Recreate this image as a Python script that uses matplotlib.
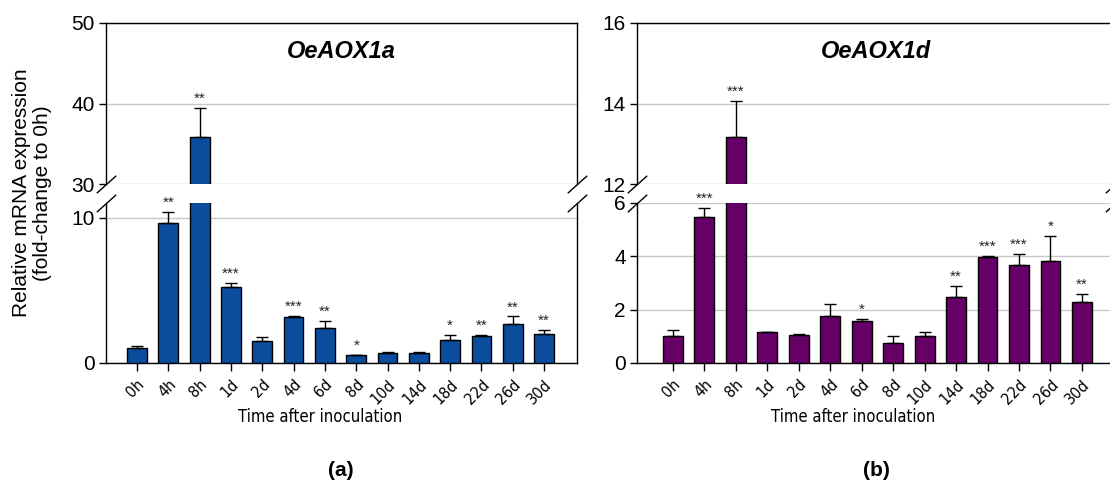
import numpy as np
import matplotlib
matplotlib.use('Agg')
import matplotlib.pyplot as plt

plt.rcParams['font.family'] = ['Liberation Sans', 'DejaVu Sans']

labels = ['0h', '4h', '8h', '1d', '2d', '4d', '6d', '8d', '10d', '14d', '18d', '22d', '26d', '30d']

# OeAOX1a
aox1a = [1.0, 9.6, 35.9, 5.2, 1.5, 3.15, 2.4, 0.55, 0.72, 0.68, 1.6, 1.85, 2.65, 2.0]
aox1a_err = [0.2, 0.8, 3.5, 0.28, 0.3, 0.07, 0.48, 0.03, 0.05, 0.05, 0.32, 0.05, 0.55, 0.25]
aox1a_sig = ['', '**', '**', '***', '', '***', '**', '*', '', '', '*', '**', '**', '**']

# OeAOX1d
aox1d = [1.0, 5.48, 13.18, 1.15, 1.06, 1.76, 1.56, 0.75, 1.03, 2.46, 3.98, 3.66, 3.83, 2.27]
aox1d_err = [0.22, 0.34, 0.88, 0.02, 0.03, 0.46, 0.08, 0.27, 0.14, 0.44, 0.03, 0.42, 0.95, 0.32]
aox1d_sig = ['', '***', '***', '', '', '', '*', '', '', '**', '***', '***', '*', '**']

W, H = 1110, 493
fig = plt.figure(figsize=(W / 100, H / 100), dpi=100)

# condensed face for the time labels
narrow = dict(family='DejaVu Sans', stretch='condensed')


def box(x0, x1, ytop, ybot):
    # pixel box -> figure fraction
    return [x0 / W, 1 - ybot / H, (x1 - x0) / W, (ybot - ytop) / H]


def panel(x0, x1, xlim, vals, errs, sigs, color, top_lim, top_ticks, bot_lim, bot_ticks, title):
    ax_t = fig.add_axes(box(x0, x1, 23, 184))
    ax_b = fig.add_axes(box(x0, x1, 203, 363))
    x = np.arange(len(labels))
    for ax in (ax_t, ax_b):
        ax.bar(x, vals, width=0.63, color=color, edgecolor='black', linewidth=1,
               yerr=[np.zeros(len(errs)), errs], capsize=4,
               error_kw=dict(elinewidth=1, capthick=1, ecolor='black'), zorder=3)
        ax.set_xlim(xlim)
        ax.set_axisbelow(True)
        ax.yaxis.grid(True, color='#c8c8c8', linewidth=1)
        for s in ax.spines.values():
            s.set_color('black')
            s.set_linewidth(1)
        ax.tick_params(axis='y', labelsize=15, length=5, width=1, pad=3)

    ax_t.set_ylim(top_lim)
    ax_t.set_yticks(top_ticks)
    ax_t.spines['bottom'].set_visible(False)
    ax_t.tick_params(axis='x', bottom=False, labelbottom=False)

    ax_b.set_ylim(bot_lim)
    ax_b.set_yticks(bot_ticks)
    ax_b.spines['top'].set_visible(False)
    ax_b.set_xticks(x)
    ax_b.set_xticklabels(labels, rotation=45, ha='right', va='top', rotation_mode='anchor',
                         fontsize=11.5, **narrow)
    ax_b.tick_params(axis='x', length=6, width=1, pad=4)

    # significance stars
    for i in range(len(vals)):
        if not sigs[i]:
            continue
        top = vals[i] + errs[i]
        ax = ax_t if top > bot_lim[1] else ax_b
        ax.annotate(sigs[i], (i, top), xytext=(0, 1.5), textcoords='offset points',
                    ha='center', va='bottom', fontsize=11, color='#222222',
                    annotation_clip=False)

    ax_t.text(0.5, 0.82, title, transform=ax_t.transAxes, ha='center', va='center',
              fontsize=17, fontweight='bold', fontstyle='italic')

    # break marks
    mk = dict(marker=[(-1, -0.9), (1, 0.9)], markersize=14, linestyle='none',
              color='black', mec='black', mew=1, clip_on=False)
    ax_t.plot([0, 1], [0, 0], transform=ax_t.transAxes, **mk)
    ax_b.plot([0, 1], [1, 1], transform=ax_b.transAxes, **mk)
    return ax_t, ax_b


panel(106, 577, (-0.99, 14.05), aox1a, aox1a_err, aox1a_sig, '#0b4c9c',
      (30, 50), [30, 40, 50], (0, 11), [0, 10], 'OeAOX1a')
panel(637, 1115, (-1.14, 14.05), aox1d, aox1d_err, aox1d_sig, '#660066',
      (12, 16), [12, 14, 16], (0, 6), [0, 2, 4, 6], 'OeAOX1d')

fig.text(32 / W, 1 - 193 / H, 'Relative mRNA expression\n(fold-change to 0h)',
         rotation=90, ha='center', va='center', multialignment='center', fontsize=15,
         linespacing=1.1)

fig.text(320 / W, 1 - 417 / H, 'Time after inoculation', ha='center', va='center',
         fontsize=12, **narrow)
fig.text(853 / W, 1 - 417 / H, 'Time after inoculation', ha='center', va='center',
         fontsize=12, **narrow)

fig.text(341 / W, 1 - 470 / H, '(a)', ha='center', va='center', fontsize=15, fontweight='bold')
fig.text(876 / W, 1 - 470 / H, '(b)', ha='center', va='center', fontsize=15, fontweight='bold')

fig.savefig('out.png', dpi=100)
